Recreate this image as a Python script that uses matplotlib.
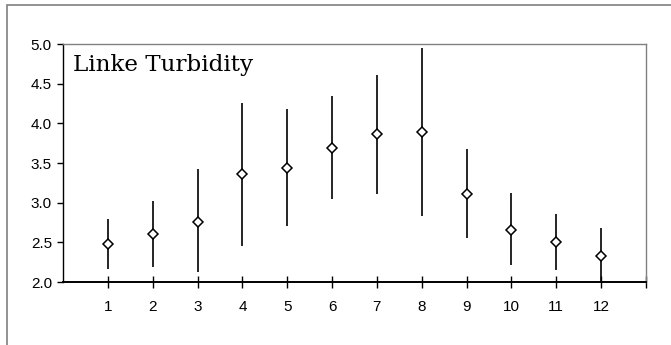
import matplotlib
matplotlib.use("Agg")
import matplotlib.pyplot as plt
from matplotlib.patches import Rectangle

months = [1, 2, 3, 4, 5, 6, 7, 8, 9, 10, 11, 12]
mean_tl = [2.48, 2.60, 2.76, 3.36, 3.44, 3.69, 3.87, 3.89, 3.11, 2.66, 2.51, 2.33]
upper_tl = [2.80, 3.02, 3.42, 4.26, 4.18, 4.34, 4.61, 4.95, 3.68, 3.12, 2.86, 2.68]
lower_tl = [2.17, 2.19, 2.12, 2.46, 2.71, 3.05, 3.11, 2.83, 2.56, 2.21, 2.15, 2.00]
y_ticks = [2.0, 2.5, 3.0, 3.5, 4.0, 4.5, 5.0]
title_text = "Linke Turbidity"

W, H = 671, 345
fig = plt.figure(figsize=(W / 100, H / 100), dpi=100)
fig.patch.set_facecolor("white")

# outer chart frame
fig.patches.append(Rectangle((7 / W, -0.1), 1.2, (H - 5) / H + 0.1, transform=fig.transFigure,
                             fill=False, edgecolor="#808080", linewidth=1.2))

left, right, top, bottom = 63, 646, 44, 282
ax = fig.add_axes([left / W, 1 - bottom / H, (right - left) / W, (bottom - top) / H])

yerr = [[m - lo for m, lo in zip(mean_tl, lower_tl)], [u - m for m, u in zip(mean_tl, upper_tl)]]
ax.errorbar(months, mean_tl, yerr=yerr, fmt="none", ecolor="black", elinewidth=1.2, capsize=0,
            clip_on=True)
ax.plot(months, mean_tl, linestyle="none", marker="D", markersize=4.6, markerfacecolor="white",
        markeredgecolor="black", markeredgewidth=1.1, zorder=5)

ax.set_xlim(0, 13)
ax.set_ylim(2.0, 5.0)
ax.set_yticks(y_ticks)
ax.set_yticklabels([f"{v:.1f}" for v in y_ticks], fontfamily="Liberation Sans", fontsize=11)
ax.set_xticks(months + [13])
ax.set_xticklabels([str(m) for m in months] + [""], fontfamily="Liberation Sans", fontsize=11)

ax.tick_params(axis="y", direction="out", length=4, width=1, pad=4)
ax.tick_params(axis="x", direction="inout", length=8, width=1, pad=9)

for s in ["top", "right"]:
    ax.spines[s].set_color("#808080")
    ax.spines[s].set_linewidth(1.0)
ax.spines["left"].set_color("black")
ax.spines["left"].set_linewidth(1.0)
ax.spines["bottom"].set_color("black")
ax.spines["bottom"].set_linewidth(1.4)

ax.text(0.017, (282 - 71) / 238, title_text, transform=ax.transAxes, ha="left", va="baseline",
        fontfamily="DejaVu Serif", fontsize=16.6)

fig.savefig("out.png", dpi=100, facecolor="white")
